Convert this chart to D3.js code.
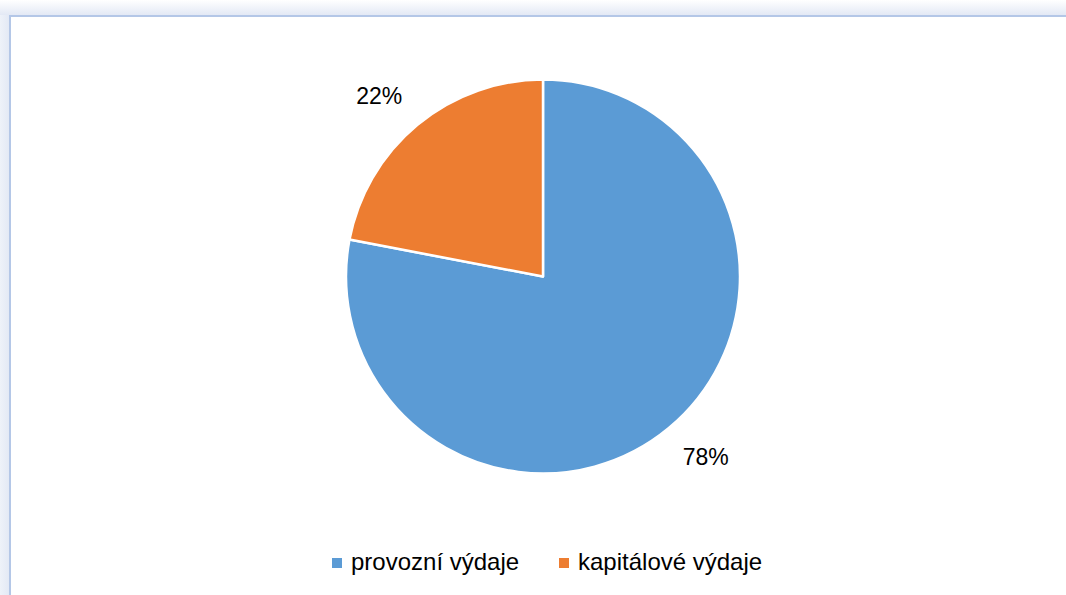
<!DOCTYPE html>
<html>
<head>
<meta charset="utf-8">
<script src="https://cdn.jsdelivr.net/npm/d3@7"></script>
<style>
  html, body { margin: 0; padding: 0; background: #fff; }
  svg { display: block; }
</style>
</head>
<body>
<svg id="chart" width="1066" height="595"></svg>
<script>
// data
const categories = ['provozní výdaje', 'kapitálové výdaje'];
const values = [78, 22];
const colors = ['#5b9bd5', '#ed7d31'];

const W = 1066, H = 595;
const svg = d3.select('#chart');

// frame glow + border like the Office chart area
let defs = svg.append('defs');
let gTop = defs.append('linearGradient').attr('id', 'glowTop')
    .attr('x1', 0).attr('y1', 0).attr('x2', 0).attr('y2', 1);
gTop.append('stop').attr('offset', '0%').attr('stop-color', '#ffffff');
gTop.append('stop').attr('offset', '100%').attr('stop-color', '#e3e9f5');
let gLeft = defs.append('linearGradient').attr('id', 'glowLeft')
    .attr('x1', 0).attr('y1', 0).attr('x2', 1).attr('y2', 0);
gLeft.append('stop').attr('offset', '0%').attr('stop-color', '#eef2f9');
gLeft.append('stop').attr('offset', '100%').attr('stop-color', '#e3e9f5');

svg.append('rect').attr('x', 0).attr('y', 0).attr('width', W).attr('height', 15)
    .attr('fill', 'url(#glowTop)');
svg.append('rect').attr('x', 0).attr('y', 15).attr('width', 9).attr('height', H - 15)
    .attr('fill', 'url(#glowLeft)');
svg.append('path')
    .attr('d', `M10,${H} L10,16 L${W},16`)
    .attr('fill', 'none')
    .attr('stroke', '#b4c7e7')
    .attr('stroke-width', 2);

// pie
const cx = 543, cy = 276.5, r = 197;
const pie = d3.pie().sort(null).value(d => d);
const arc = d3.arc().innerRadius(0).outerRadius(r);
const arcs = pie(values);

const g = svg.append('g').attr('transform', `translate(${cx},${cy})`);
g.selectAll('path.slice')
    .data(arcs)
    .enter().append('path')
    .attr('class', 'slice')
    .attr('d', arc)
    .attr('fill', (d, i) => colors[i])
    .attr('stroke', '#fff')
    .attr('stroke-width', 2.5)
    .attr('stroke-linejoin', 'round');

// data labels sit outside the slice rim (baseline positions)
const total = d3.sum(values);
const labelArc = d3.arc().innerRadius(r * 1.24).outerRadius(r * 1.24);
const labelOffset = [[7, 0], [-8, 16]];
g.selectAll('text.lbl')
    .data(arcs)
    .enter().append('text')
    .attr('class', 'lbl')
    .attr('x', (d, i) => labelArc.centroid(d)[0] + labelOffset[i][0])
    .attr('y', (d, i) => labelArc.centroid(d)[1] + labelOffset[i][1])
    .attr('text-anchor', 'middle')
    .attr('font-family', 'Liberation Sans, Arial, sans-serif')
    .attr('font-size', 23)
    .attr('fill', '#000')
    .text(d => Math.round(d.data / total * 100) + '%');

// legend
const legend = svg.append('g').attr('transform', 'translate(332,570)');
const legX = [0, 227];
const item = legend.selectAll('g.item')
    .data(categories)
    .enter().append('g')
    .attr('class', 'item')
    .attr('transform', (d, i) => `translate(${legX[i]},0)`);
item.append('rect')
    .attr('x', 0).attr('y', -12)
    .attr('width', 10).attr('height', 10)
    .attr('fill', (d, i) => colors[i]);
item.append('text')
    .attr('x', 19).attr('y', 0)
    .attr('font-family', 'Liberation Sans, Arial, sans-serif')
    .attr('font-size', 24)
    .attr('fill', '#000')
    .text(d => d);
</script>
</body>
</html>
